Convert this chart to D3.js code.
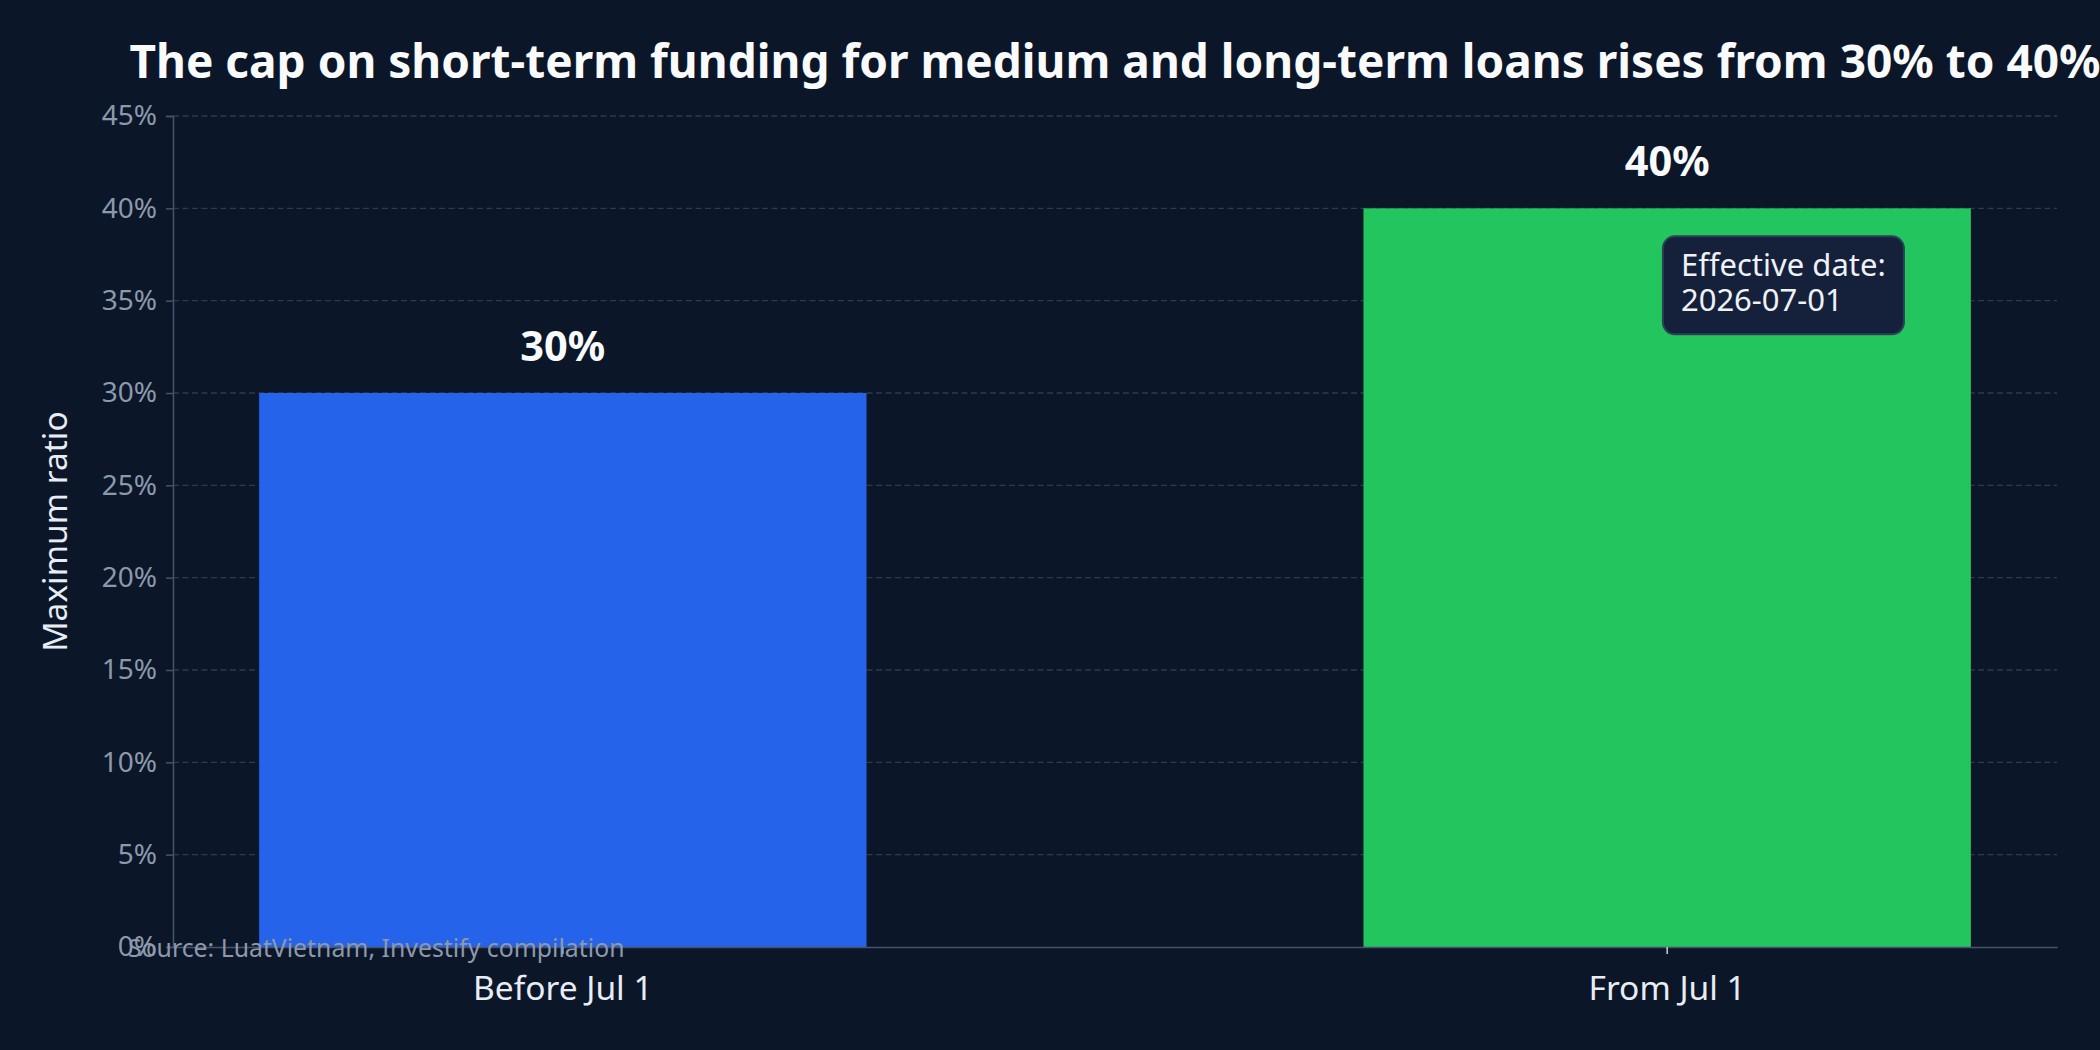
<!DOCTYPE html>
<html>
<head>
<meta charset="utf-8">
<script src="https://cdn.jsdelivr.net/npm/d3@7"></script>
<style>
  html, body { margin: 0; padding: 0; background: #0b1628; }
  svg { display: block; font-family: "Noto Sans", "Open Sans", sans-serif; }
</style>
</head>
<body>
<div id="chart-container"></div>
<script>
var categories = ['Before Jul 1', 'From Jul 1']
var values = [30, 40]
var barColors = ['#2563eb', '#22c55e']
var yTicks = [0, 5, 10, 15, 20, 25, 30, 35, 40, 45]
var titleText = 'The cap on short-term funding for medium and long-term loans rises from 30% to 40%'
var yLabel = 'Maximum ratio'
var noteLines = ['Effective date:', '2026-07-01']
var sourceText = 'Source: LuatVietnam, Investify compilation'

var WIDTH = 2100
var HEIGHT = 1050
var margin = {top: 116, right: 43, bottom: 103, left: 173}
var plotW = WIDTH - margin.left - margin.right
var plotH = HEIGHT - margin.top - margin.bottom

var svg = d3.select('#chart-container')
  .append('svg')
  .attr('width', WIDTH)
  .attr('height', HEIGHT)

svg.append('rect')
  .attr('width', WIDTH)
  .attr('height', HEIGHT)
  .attr('fill', '#0b1628')

var chart = svg.append('g')
  .attr('transform', 'translate(' + margin.left + ', ' + margin.top + ')')

// scales
var xScale = d3.scaleBand()
  .domain(categories)
  .range([0, plotW])
  .paddingInner(0.45)
  .paddingOuter(0.078)

var yScale = d3.scaleLinear()
  .domain([0, 45])
  .range([plotH, 0])

// grid
chart.append('g')
  .attr('class', 'grid')
  .selectAll('line')
  .data(yTicks.filter(function(d) { return d > 0 }))
  .enter().append('line')
    .attr('x1', 0)
    .attr('x2', plotW)
    .attr('y1', function(d) { return yScale(d) })
    .attr('y2', function(d) { return yScale(d) })
    .attr('stroke', '#2e3b4e')
    .attr('stroke-width', 1.3)
    .attr('stroke-dasharray', '6,3.5')

// bars
chart.append('g')
  .selectAll('rect')
  .data(values)
  .enter().append('rect')
    .attr('x', function(d, i) { return xScale(categories[i]) })
    .attr('y', function(d) { return yScale(d) })
    .attr('width', xScale.bandwidth())
    .attr('height', function(d) { return plotH - yScale(d) })
    .attr('fill', function(d, i) { return barColors[i] })

// value labels
chart.append('g')
  .selectAll('text')
  .data(values)
  .enter().append('text')
    .attr('x', function(d, i) { return xScale(categories[i]) + xScale.bandwidth() / 2 })
    .attr('y', function(d) { return yScale(d) - 32 })
    .attr('text-anchor', 'middle')
    .attr('fill', '#f8fafc')
    .attr('font-size', 41.5)
    .attr('font-weight', 700)
    .text(function(d) { return d + '%' })

/* y axis */
var yAxis = chart.append('g')
  .attr('class', 'axis axis--y')
  .call(d3.axisLeft(yScale).tickValues(yTicks).tickSize(7).tickPadding(9)
    .tickFormat(function(d) { return d + '%' }))
yAxis.select('.domain').attr('stroke', '#46536a').attr('stroke-width', 1.5)
yAxis.selectAll('.tick line').attr('stroke', '#46536a').attr('stroke-width', 1.5)
yAxis.selectAll('.tick text')
  .attr('fill', '#8d99ab')
  .attr('font-size', 28)
  .attr('font-family', '"Noto Sans", sans-serif')

/* x axis */
var xAxis = chart.append('g')
  .attr('class', 'axis axis--x')
  .attr('transform', 'translate(0, ' + plotH + ')')
  .call(d3.axisBottom(xScale).tickSize(7).tickPadding(22).tickSizeOuter(0))
xAxis.select('.domain').attr('stroke', '#46536a').attr('stroke-width', 1.5)
xAxis.selectAll('.tick line').attr('stroke', '#c9d1dc').attr('stroke-width', 1.5)
xAxis.selectAll('.tick text')
  .attr('fill', '#e8edf3')
  .attr('font-size', 33.5)
  .attr('font-family', '"Noto Sans", sans-serif')

// y label
svg.append('text')
  .attr('transform', 'translate(67, ' + (margin.top + plotH / 2) + ') rotate(-90)')
  .attr('text-anchor', 'middle')
  .attr('fill', '#e8edf3')
  .attr('font-size', 33.5)
  .text(yLabel)

// title
svg.append('text')
  .attr('x', margin.left + plotW / 2)
  .attr('y', 78)
  .attr('text-anchor', 'middle')
  .attr('fill', '#f8fafc')
  .attr('font-size', 46)
  .attr('font-weight', 700)
  .text(titleText)

// annotation box on second bar
var noteX = xScale(categories[1]) + xScale.bandwidth() * 0.493
var noteY = yScale(values[1]) + 28
var note = chart.append('g')
  .attr('transform', 'translate(' + noteX + ', ' + noteY + ')')
note.append('rect')
  .attr('width', 241)
  .attr('height', 98)
  .attr('rx', 12)
  .attr('fill', '#15213a')
  .attr('stroke', '#2c4156')
  .attr('stroke-width', 2)
note.selectAll('text')
  .data(noteLines)
  .enter().append('text')
    .attr('x', 18)
    .attr('y', function(d, i) { return 40 + i * 35 })
    .attr('fill', '#eef2f7')
    .attr('font-size', 31)
    .text(function(d) { return d })

// source
svg.append('text')
  .attr('x', 128)
  .attr('y', 957)
  .attr('fill', '#8d99ab')
  .attr('font-size', 24.8)
  .text(sourceText)
</script>
</body>
</html>
